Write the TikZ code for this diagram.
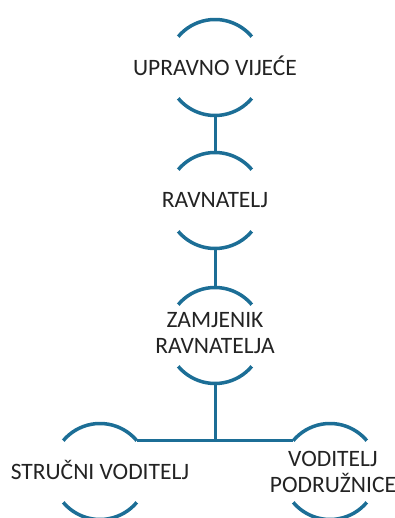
\documentclass[tikz,border=0pt]{standalone}
\usepackage{fontspec}
\setmainfont{Carlito}
\usetikzlibrary{positioning}

\definecolor{ringblue}{RGB}{28,110,150}
\definecolor{labelgrey}{RGB}{35,35,35}

\tikzset{
  hub/.style={circle, minimum size=96pt, inner sep=0pt, outer sep=0pt},
  post/.style={align=center, text=labelgrey, inner sep=0pt,
    font=\fontsize{23.5}{26}\selectfont},
  ring/.style={draw=ringblue, line width=3.5pt},
  link/.style={draw=ringblue, line width=3pt},
}

% top and bottom parts of a hub's circle
\newcommand{\halfrings}[1]{%
  \draw[ring] (#1.40) arc[start angle=40, end angle=140, radius=48pt];%
  \draw[ring] (#1.220) arc[start angle=220, end angle=320, radius=48pt];%
}

\begin{document}
\begin{tikzpicture}
    \useasboundingbox (0,0) rectangle (395pt,518pt);%

    % Upravno vijece
    \node [hub] (uv) at (215pt,450.5pt) {};%
    \node [post] (uvt) at ([yshift=2pt]uv) {UPRAVNO VIJEĆE};%
    \halfrings{uv}

    % Ravnatelj
    \node [hub, below=37pt of uv] (rav) {};%
    \node [post] (ravt) at (rav) {RAVNATELJ};%
    \halfrings{rav}

    % Zamjenik
    \node [hub, below=39pt of rav] (zr) {};%
    \node [post] (zrt) at ([yshift=2pt]zr) {ZAMJENIK\\RAVNATELJA};%
    \halfrings{zr}

    % -- Strucni voditelj
    \node [hub] (sv) at ([xshift=-115pt, yshift=-136pt]zr) {};%
    \node [post] (svt) at ([yshift=2pt]sv) {STRUČNI VODITELJ};%
    \halfrings{sv}
    % -- Voditelj podruznice
    \node [hub] (vp) at ([xshift=115pt, yshift=-136pt]zr) {};%
    \node [post] (vpt) at ([xshift=3pt]vp) {VODITELJ\\PODRUŽNICE};%
    \halfrings{vp}

    % lines
    \coordinate (fork) at (zr.south |- sv.40);%
    \draw [link] (uv) -- (rav);%
    \draw [link] (rav) -- (zr);%
    \draw [link] (zr) -- (fork);%
    \draw [link] (sv.40) -- (vp.140);
\end{tikzpicture}
\end{document}
